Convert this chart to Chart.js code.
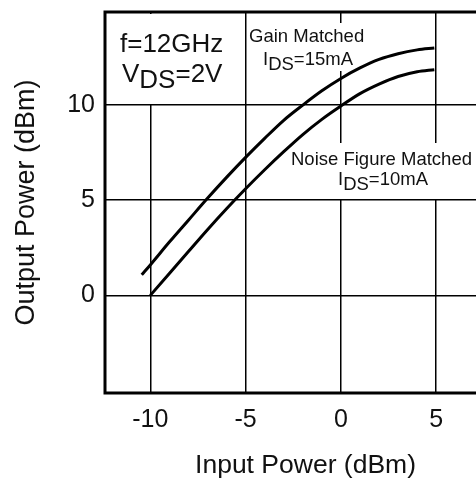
<!DOCTYPE html>
<html>
<head>
<meta charset="utf-8">
<script src="https://cdn.jsdelivr.net/npm/chart.js@4/dist/chart.umd.min.js"></script>
<style>
  html, body { margin: 0; padding: 0; background: #fff; overflow: hidden; }
  #wrap { width: 476px; height: 480px; overflow: hidden; }
</style>
</head>
<body>
<div id="wrap"><canvas id="pout_graph" width="506" height="480"></canvas></div>
<script>
// Gain matched, Ids = 15mA
var gainIn  = [-10.45, -10, -9, -8, -7, -6, -5, -4, -3, -2, -1, 0, 1, 2, 3, 4, 4.9];
var gainOut = [1.08, 1.6, 2.8, 3.95, 5.1, 6.2, 7.25, 8.25, 9.2, 10.0, 10.75, 11.4, 11.95, 12.4, 12.7, 12.9, 13.0];

// Noise figure matched, Ids = 10mA
var nfIn  = [-10, -9, -8, -7, -6, -5, -4, -3, -2, -1, 0, 1, 2, 3, 4, 4.9];
var nfOut = [0, 1.15, 2.3, 3.45, 4.55, 5.6, 6.6, 7.55, 8.45, 9.25, 9.95, 10.6, 11.1, 11.5, 11.75, 11.86];

var xTicks = [-10, -5, 0, 5];
var yTicks = [0, 5, 10];

var FONT = "'Liberation Sans', Arial, Helvetica, sans-serif";

function toPoints(xs, ys){
    var pts = [];
    for(var i=0; i<xs.length; i++){
        pts.push({x: xs[i], y: ys[i]});
    }
    return pts;
}

// text with a lowered part, e.g. V DS =2V
function drawSub(ctx, x, y, parts){
    for(var i=0; i<parts.length; i++){
        ctx.fillText(parts[i][0], x, y + parts[i][1]);
        x += ctx.measureText(parts[i][0]).width;
    }
}

var notes = {
    id: 'notes',
    beforeDatasetsDraw: function(chart){
        var ctx = chart.ctx;
        ctx.save();
        // white boxes behind the labels (grid is broken there)
        ctx.fillStyle = '#fff';
        ctx.fillRect(107, 14, 138, 90);
        ctx.fillRect(248, 23, 118, 48);
        ctx.fillRect(288, 143, 218, 56);

        ctx.fillStyle = '#111';
        ctx.textBaseline = 'alphabetic';
        ctx.textAlign = 'left';

        ctx.font = '26px ' + FONT;
        ctx.fillText('f=12GHz', 120, 52);
        drawSub(ctx, 122, 82, [['V', 0], ['DS', 6], ['=2V', 0]]);

        ctx.font = '18.5px ' + FONT;
        ctx.fillText('Gain Matched', 249, 42);
        drawSub(ctx, 263, 65, [['I', 0], ['DS', 5], ['=15mA', 0]]);

        ctx.fillText('Noise Figure Matched', 291, 165);
        drawSub(ctx, 338, 185, [['I', 0], ['DS', 5], ['=10mA', 0]]);
        ctx.restore();
    },
    afterDraw: function(chart){
        var a = chart.chartArea;
        var ctx = chart.ctx;
        ctx.save();
        ctx.strokeStyle = '#000';
        ctx.lineWidth = 3;
        ctx.beginPath();
        ctx.moveTo(a.right, a.top);
        ctx.lineTo(a.left, a.top);
        ctx.lineTo(a.left, a.bottom);
        ctx.lineTo(a.right, a.bottom);
        ctx.stroke();
        ctx.restore();
    }
};

function setTicks(list){
    return function(scale){
        scale.ticks = list.map(function(v){ return {value: v}; });
    };
}

function fixSize(w, h){
    return function(s){
        if(w) s.width = w;
        if(h) s.height = h;
        s.paddingTop = 0;
        s.paddingBottom = 0;
        s.paddingLeft = 0;
        s.paddingRight = 0;
    };
}

var ctx = document.getElementById('pout_graph').getContext('2d');
var chart = new Chart(ctx, {
    type: 'line',
    data: {
        datasets: [{
            label: 'Gain Matched IDS=15mA',
            data: toPoints(gainIn, gainOut),
            borderColor: '#000',
            borderWidth: 3,
            pointRadius: 0,
            tension: 0.4,
            cubicInterpolationMode: 'monotone',
            fill: false
        }, {
            label: 'Noise Figure Matched IDS=10mA',
            data: toPoints(nfIn, nfOut),
            borderColor: '#000',
            borderWidth: 3,
            pointRadius: 0,
            tension: 0.4,
            cubicInterpolationMode: 'monotone',
            fill: false
        }]
    },
    options: {
        responsive: false,
        animation: false,
        devicePixelRatio: 1,
        layout: { padding: { top: 12, left: 0, right: 0, bottom: 0 } },
        plugins: {
            legend: { display: false },
            tooltip: { enabled: false }
        },
        scales: {
            x: {
                type: 'linear',
                min: -12.376,
                max: 8.66,
                afterBuildTicks: setTicks(xTicks),
                afterFit: fixSize(0, 87),
                grid: { color: '#000', lineWidth: 1.5, drawTicks: false },
                border: { display: false },
                ticks: {
                    padding: 12,
                    color: '#111',
                    font: { family: FONT, size: 25 }
                },
                title: {
                    display: true,
                    text: 'Input Power (dBm)',
                    color: '#111',
                    font: { family: FONT, size: 26.5 },
                    padding: { top: 0, bottom: -2 }
                }
            },
            y: {
                type: 'linear',
                min: -5.13,
                max: 14.89,
                afterBuildTicks: setTicks(yTicks),
                afterFit: fixSize(105, 0),
                grid: { color: '#000', lineWidth: 1.5, drawTicks: false },
                border: { display: false },
                ticks: {
                    padding: 10,
                    color: '#111',
                    font: { family: FONT, size: 25 }
                },
                title: {
                    display: true,
                    text: 'Output Power (dBm)',
                    color: '#111',
                    font: { family: FONT, size: 27 },
                    padding: { top: 10, bottom: 0 }
                }
            }
        }
    },
    plugins: [notes]
});
</script>
</body>
</html>
